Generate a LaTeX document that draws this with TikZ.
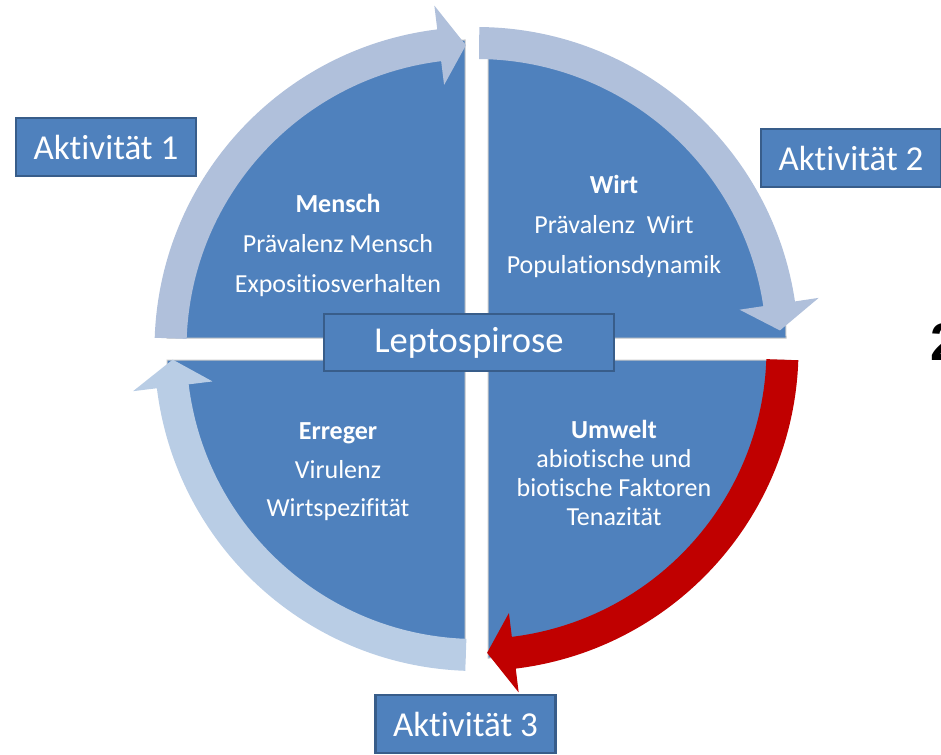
\documentclass[tikz,border=0pt]{standalone}
\usepackage{fontspec}
\setmainfont{Carlito}[Ligatures=NoCommon]
\newfontfamily\arialfont{Liberation Sans}
\usepackage{xcolor}
\usetikzlibrary{calc, math}

\definecolor{quadblue}{RGB}{79,129,189}
\definecolor{boxedge}{RGB}{56,93,138}
\definecolor{quadedge}{RGB}{200,200,200}
\definecolor{ringlight}{RGB}{176,192,219}
\definecolor{ringpale}{RGB}{185,205,229}
\definecolor{ringred}{RGB}{192,0,0}

\tikzset{
  quadrant/.style={fill=quadblue, draw=quadedge, line width=1pt},
  aktbox/.style={fill=quadblue, draw=boxedge, line width=2.5pt, text=white,
    minimum width=180pt, minimum height=58pt, inner sep=0pt,
    font=\fontsize{35}{40}\selectfont},
  quadtext/.style={text=white, align=center, font=\fontsize{26}{40}\selectfont},
}

\begin{document}
\begin{tikzpicture}[x=1pt,y=1pt]
\tikzmath{
\ri=290;
\ro=322;
\rt=304;
\hi=266;
\ho=346;
\rq=298;
}
\useasboundingbox (0,0) rectangle (941,-754);
\clip (0,0) rectangle (941,-754);
\coordinate (C) at (476.5,-349);

% four quadrants
\filldraw[quadrant] (465,-338) -- ++(180:\rq) arc[start angle=180, end angle=90, radius=\rq] -- cycle;
\filldraw[quadrant] (488,-338) -- ++(90:\rq) arc[start angle=90, end angle=0, radius=\rq] -- cycle;
\filldraw[quadrant] (465,-360) -- ++(270:\rq) arc[start angle=270, end angle=180, radius=\rq] -- cycle;
\filldraw[quadrant] (488,-360) -- ++(0:\rq) arc[start angle=360, end angle=270, radius=\rq] -- cycle;

% ring arrows, clockwise
\foreach \s/\col in {178/ringlight, 89.5/ringlight, -2/ringred, 268/ringpale}{
  \pgfmathsetmacro\headang{\s-81}
  \pgfmathsetmacro\tipang{\s-86}
  \fill[\col] ($(C)+(\s:\ro)$) arc[start angle=\s, end angle=\headang, radius=\ro]
    -- ($(C)+(\headang:\ho)$) -- ($(C)+(\tipang:\rt)$) -- ($(C)+(\headang:\hi)$)
    -- ($(C)+(\headang:\ri)$) arc[start angle=\headang, end angle=\s, radius=\ri] -- cycle;
}

\node[quadtext] (mensch) at (338,-245) {\textbf{Mensch}\\ Prävalenz Mensch\\ Expositiosverhalten};
\node[quadtext] (wirt) at (614,-226) {\textbf{Wirt}\\ Prävalenz\ \ Wirt\\ Populationsdynamik};
\node[quadtext, font=\fontsize{26}{38.5}\selectfont] (erreger) at (338,-472) {\textbf{Erreger}\\ Virulenz\\ Wirtspezifität};
\node[quadtext, font=\fontsize{26}{29}\selectfont] (umwelt) at (614,-473) {\textbf{Umwelt}\\ abiotische und\\ biotische Faktoren\\ Tenazität};

\node[aktbox, minimum width=290pt, minimum height=57pt, font=\fontsize{36.5}{40}\selectfont] (lepto) at (469,-342.5) {Leptospirose};
\node[aktbox] (akt1) at (106,-147) {Aktivität 1};
\node[aktbox] (akt2) at (851,-158) {Aktivität 2};
\node[aktbox] (akt3) at (465.5,-724) {Aktivität 3};

\node[anchor=base west, inner sep=0pt, font=\arialfont\bfseries\fontsize{53}{60}\selectfont] (two) at (930,-360) {2};
\end{tikzpicture}
\end{document}
